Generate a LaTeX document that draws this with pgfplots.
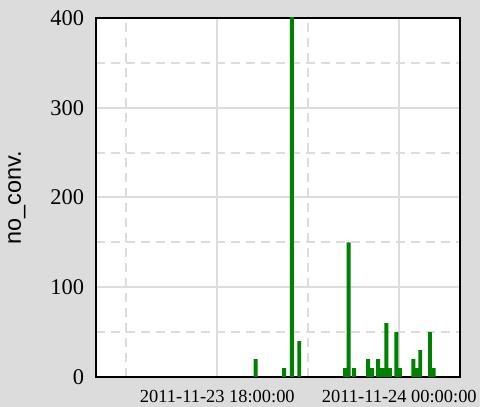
\documentclass[border=0pt]{standalone}
\usepackage{pgfplots}
\pgfplotsset{compat=1.18}
\usepackage{fontspec}
\setmainfont{Liberation Serif}
\newfontfamily\sansf{Liberation Sans}
\definecolor{bg}{RGB}{220,220,220}
\definecolor{gridc}{RGB}{220,220,220}
\definecolor{bargreen}{RGB}{0,128,0}
\begin{document}
\begin{tikzpicture}
\useasboundingbox (-96bp,-30bp) rectangle (384bp,377bp);
\fill[bg] (-96bp,-30bp) rectangle (384bp,377bp);
\begin{axis}[name=ax, at={(0,0)}, anchor=south west,
 scale only axis, width=364bp, height=359bp,
 xmin=14, xmax=26, ymin=0, ymax=400,
 axis background/.style={fill=white},
 axis line style={line width=2bp, black},
 xtick={18,24}, xticklabels={2011-11-23 18:00:00, 2011-11-24 00:00:00},
 minor xtick={15,21},
 ytick={0,100,200,300,400}, minor ytick={50,150,250,350},
 grid=both,
 major grid style={gridc, line width=2bp},
 minor grid style={gridc, line width=2bp, dash pattern=on 9bp off 6bp},
 major tick length=0pt, minor tick length=0pt,
 /pgf/number format/assume math mode=true,
 xticklabel style={font=\fontsize{18.5}{20}\selectfont, yshift=-10bp},
 yticklabel style={font=\fontsize{22.5}{24}\selectfont, xshift=-8.5bp},
 ylabel={\sansf\fontsize{23.5}{25}\selectfont no\_conv.},
 every axis y label/.style={at={([xshift=-79bp]rel axis cs:0,0.5)}, anchor=center, rotate=90},
 ybar, bar width=0.13,
]
\addplot[fill=bargreen, draw=none] coordinates {
(19.26,20) (20.20,10) (20.46,420) (20.70,40) (22.21,10) (22.33,150)
(22.51,10) (22.97,20) (23.10,10) (23.30,20) (23.43,10) (23.57,60)
(23.69,10) (23.90,50) (24.02,10) (24.46,20) (24.57,10) (24.69,30)
(25.01,50) (25.13,10)
};
\end{axis}
\end{tikzpicture}
\end{document}
